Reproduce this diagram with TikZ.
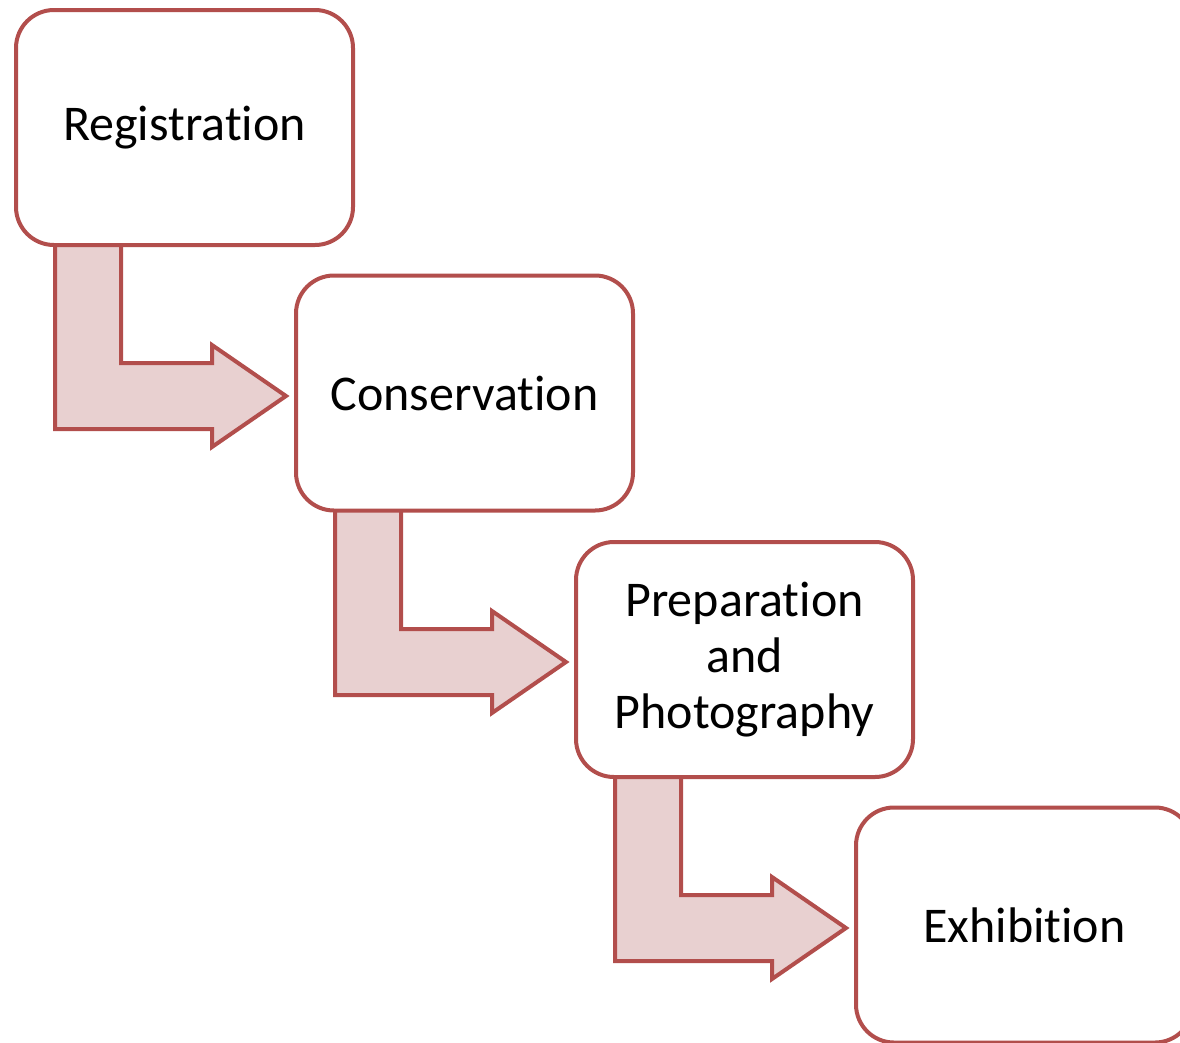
\documentclass[tikz,border=0pt]{standalone}
\usepackage{fontspec}
\setmainfont[Ligatures=NoCommon,RawFeature=-liga]{Carlito}
\usetikzlibrary{calc}
\definecolor{edgered}{RGB}{178,78,76}
\definecolor{pinkfill}{RGB}{232,208,208}
\begin{document}
\begin{tikzpicture}[x=1pt,y=-1pt,
  stagebox/.style={draw=edgered,line width=4pt,fill=white,rounded corners=38pt,
    minimum width=337pt,minimum height=235pt,align=center,inner sep=0pt,
    font=\fontsize{50}{56}\selectfont},
  bentarrow/.style={draw=edgered,line width=4pt,fill=pinkfill,line join=miter}]
\useasboundingbox (0,0) rectangle (1180,1042);
% arrows (drawn first, under the boxes)
\foreach \i in {0,1,2}{
  \pgfmathsetmacro{\dx}{280*\i}
  \pgfmathsetmacro{\dy}{266*\i}
  \begin{scope}[shift={(\dx,\dy)}]
    \coordinate (tip\i) at (286,396);
    \draw[bentarrow] (55,240) -- (121,240) -- (121,363) -- (212,363) -- (212,345)
      -- (tip\i) -- (212,447) -- (212,429) -- (55,429) -- cycle;
  \end{scope}
}
\node[stagebox] (reg) at (184.5,127.5) {Registration};
\node[stagebox] (con) at (464.5,393) {Conservation};
\node[stagebox] (prep) at (744.5,659.5) {Preparation\\and\\Photography};
\node[stagebox] (exh) at (1024.5,925) {Exhibition};
\end{tikzpicture}
\end{document}
